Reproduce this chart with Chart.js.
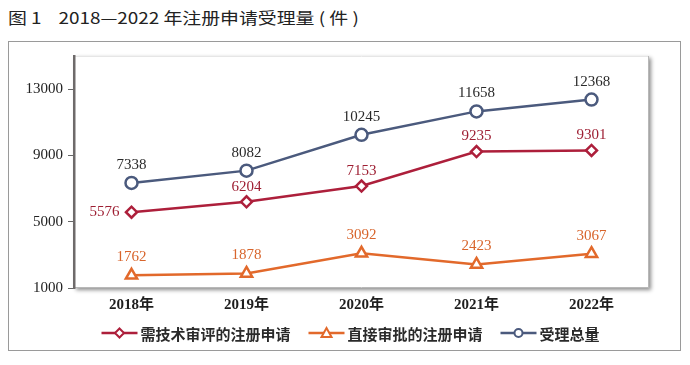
<!DOCTYPE html>
<html>
<head>
<meta charset="utf-8">
<script src="https://cdn.jsdelivr.net/npm/chart.js@4.4.0/dist/chart.umd.min.js"></script>
<style>
  body { margin: 0; background: #fff; width: 690px; height: 365px; position: relative; overflow: hidden; }
  #title { position: absolute; left: 8px; top: 5px; font: 16px 'Noto Sans CJK SC', sans-serif; color: #222; white-space: pre; transform: scaleX(1.18); transform-origin: left center; }
  #box { position: absolute; left: 8px; top: 41px; width: 671px; height: 308px; border: 1px solid #9a9a9a; }
</style>
</head>
<body>
<div id="title">图 1    2018—2022 年注册申请受理量 ( 件 )</div>
<div id="box"><canvas id="myChart" width="671" height="308"></canvas></div>
<script>
// chart values
let years = ['2018年', '2019年', '2020年', '2021年', '2022年'];
let reviewData = [5576, 6204, 7153, 9235, 9301];   // 需技术审评的注册申请
let directData = [1762, 1878, 3092, 2423, 3067];   // 直接审批的注册申请
let totalData = [7338, 8082, 10245, 11658, 12368]; // 受理总量
let yTicks = [1000, 5000, 9000, 13000];

let red = '#ad1f3b';
let orange = '#e2692b';
let navy = '#4b5a7d';

// marker shape used by the legend
function marker(ctx, style, x, y) {
  ctx.beginPath();
  if (style === 'circle') {
    ctx.arc(x, y, 4, 0, Math.PI * 2);
  } else if (style === 'rectRot') {
    ctx.moveTo(x, y - 4.5); ctx.lineTo(x + 4.5, y); ctx.lineTo(x, y + 4.5); ctx.lineTo(x - 4.5, y); ctx.closePath();
  } else {
    ctx.moveTo(x, y - 5); ctx.lineTo(x + 5, y + 4); ctx.lineTo(x - 5, y + 4); ctx.closePath();
  }
  ctx.fill(); ctx.stroke();
}

// plot frame with a soft shadow
const frame = {
  id: 'frame',
  beforeDraw(chart) {
    let a = chart.chartArea, ctx = chart.ctx;
    ctx.save();
    ctx.shadowColor = 'rgba(0,0,0,0.45)';
    ctx.shadowBlur = 4;
    ctx.shadowOffsetX = 2;
    ctx.shadowOffsetY = 2;
    ctx.fillStyle = '#fff';
    ctx.fillRect(a.left, a.top, a.right - a.left, a.bottom - a.top);
    ctx.restore();
    ctx.save();
    ctx.strokeStyle = '#e6e6e6';
    ctx.lineWidth = 1;
    ctx.beginPath(); ctx.moveTo(a.left, a.top + 0.5); ctx.lineTo(a.right, a.top + 0.5); ctx.stroke();
    ctx.strokeStyle = '#b8b8b8';
    ctx.beginPath(); ctx.moveTo(a.left, a.bottom - 0.5); ctx.lineTo(a.right, a.bottom - 0.5); ctx.stroke();
    ctx.beginPath(); ctx.moveTo(a.right - 0.5, a.top); ctx.lineTo(a.right - 0.5, a.bottom); ctx.stroke();
    ctx.restore();
  }
};

// value labels above the points
const valueLabels = {
  id: 'valueLabels',
  afterDatasetsDraw(chart) {
    let ctx = chart.ctx;
    ctx.save();
    ctx.font = "15px 'Liberation Serif', serif";
    ctx.textBaseline = 'middle';
    chart.data.datasets.forEach((ds, i) => {
      chart.getDatasetMeta(i).data.forEach((pt, j) => {
        ctx.fillStyle = ds.labelColor;
        if (ds.labelLeft && ds.labelLeft.includes(j)) {
          ctx.textAlign = 'right';
          ctx.fillText(ds.data[j], pt.x - 12, pt.y);
        } else {
          ctx.textAlign = 'center';
          ctx.fillText(ds.data[j], pt.x, pt.y - ds.labelGap);
        }
      });
    });
    ctx.restore();
  }
};

// legend: short line with marker, then the series name
const lineLegend = {
  id: 'lineLegend',
  afterDraw(chart) {
    let ctx = chart.ctx;
    let sets = chart.data.datasets;
    ctx.save();
    ctx.font = "bold 15px 'Noto Sans CJK SC', sans-serif";
    ctx.textBaseline = 'middle';
    let widths = sets.map((ds) => 36 + 3 + ctx.measureText(ds.label).width);
    let total = widths.reduce((s, w) => s + w, 0) + 18 * (sets.length - 1);
    let x = chart.width / 2 + 6 - total / 2;
    let y = chart.height - 17;
    sets.forEach((ds, i) => {
      ctx.strokeStyle = ds.borderColor;
      ctx.lineWidth = 2.5;
      ctx.beginPath(); ctx.moveTo(x, y); ctx.lineTo(x + 36, y); ctx.stroke();
      ctx.fillStyle = '#fff';
      ctx.lineWidth = 2;
      marker(ctx, ds.pointStyle, x + 18, y);
      ctx.fillStyle = '#2a2a2a';
      ctx.textAlign = 'left';
      ctx.fillText(ds.label, x + 39, y + 1);
      x += widths[i] + 18;
    });
    ctx.restore();
  }
};

let myChart = document.getElementById('myChart').getContext('2d');

let chart = new Chart(myChart, {
  type: 'line',
  data: {
    labels: years,
    datasets: [{
      label: '需技术审评的注册申请',
      data: reviewData,
      borderColor: red,
      backgroundColor: '#fff',
      borderWidth: 2.5,
      pointStyle: 'rectRot',
      pointRadius: 5.5,
      pointBorderWidth: 2.5,
      labelColor: '#9e1f33',
      labelGap: 15,
      labelLeft: [0]
    }, {
      label: '直接审批的注册申请',
      data: directData,
      borderColor: orange,
      backgroundColor: '#fff',
      borderWidth: 2.5,
      pointStyle: 'triangle',
      pointRadius: 6.5,
      pointBorderWidth: 2.5,
      labelColor: '#d8652c',
      labelGap: 18
    }, {
      label: '受理总量',
      data: totalData,
      borderColor: navy,
      backgroundColor: '#fff',
      borderWidth: 2.5,
      pointStyle: 'circle',
      pointRadius: 6,
      pointBorderWidth: 2.5,
      labelColor: '#2a2a2a',
      labelGap: 18
    }]
  },
  options: {
    responsive: false,
    animation: false,
    layout: { padding: { left: 0, right: 31, top: 11, bottom: 32 } },
    scales: {
      x: {
        offset: true,
        grid: { display: false },
        border: { display: false },
        afterFit: (s) => { s.height = 30; },
        ticks: {
          color: '#1e1e1e',
          padding: 0,
          font: { family: "'Liberation Serif', 'Noto Sans CJK SC', serif", size: 15, weight: 'bold' }
        }
      },
      y: {
        min: 1000,
        max: 15000,
        afterBuildTicks: (s) => { s.ticks = yTicks.map((v) => ({ value: v })); },
        afterFit: (s) => { s.width = 65; },
        grid: { display: true, drawOnChartArea: false, drawTicks: true, tickLength: 6, color: '#666', lineWidth: 1 },
        border: { display: true, color: '#6e6a6a', width: 2.5 },
        ticks: {
          color: '#222',
          padding: 5,
          callback: (v) => String(v),
          font: { family: "'Liberation Serif', serif", size: 15 }
        }
      }
    },
    plugins: {
      legend: { display: false },
      tooltip: { enabled: false }
    }
  },
  plugins: [frame, valueLabels, lineLegend]
});
</script>
</body>
</html>
